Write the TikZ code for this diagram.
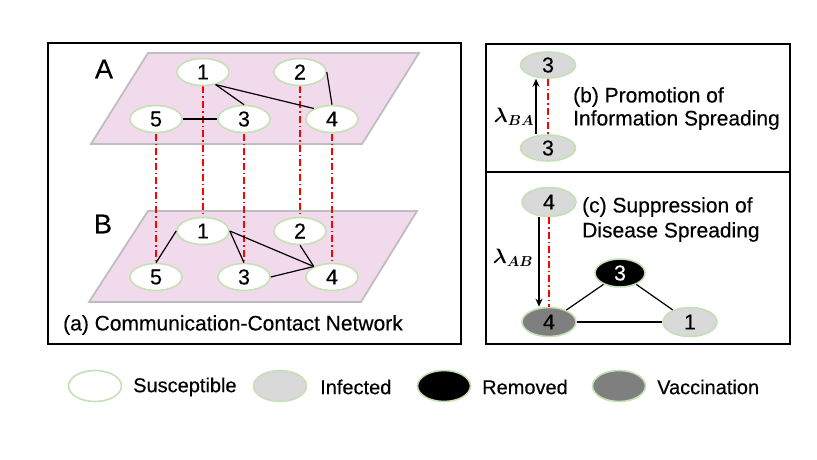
\documentclass[tikz,border=0pt]{standalone}
\usepackage{fontspec}
\setmainfont{Liberation Sans}[FakeBold=0.3]
\usepackage{amsmath,bm}
\usetikzlibrary{shapes.geometric,arrows.meta}
\definecolor{plane}{HTML}{F1DAEC}
\definecolor{planeedge}{HTML}{BEBEBE}
\definecolor{nodeedge}{HTML}{C5E0B4}
\definecolor{infgray}{HTML}{D9D9D9}
\definecolor{vacgray}{HTML}{7F7F7F}
\tikzset{
  nd/.style={ellipse, draw=nodeedge, line width=1.6pt, fill=white, minimum width=52pt, minimum height=27pt, inner sep=0pt, font=\fontsize{21.5}{24}\selectfont},
  inf/.style={fill=infgray},
  rem/.style={fill=black, text=white},
  vac/.style={fill=vacgray},
  lg/.style={ellipse, draw=nodeedge, line width=1.6pt, minimum width=53pt, minimum height=31pt, inner sep=0pt},
  lgtext/.style={anchor=west, inner sep=0pt, font=\fontsize{20}{24}\selectfont},
  edge/.style={line width=1.2pt, black},
  reddash/.style={red, line width=1.6pt, dash pattern=on 7pt off 3pt on 1.5pt off 3pt},
  panel/.style={draw=black, line width=1.8pt},
  pl/.style={fill=plane, draw=planeedge, line width=1.8pt},
  captext/.style={anchor=west, inner sep=0pt, font=\fontsize{21}{24}\selectfont},
  lay/.style={inner sep=0pt, font=\fontsize{27}{30}\selectfont},
  arr/.style={line width=1.4pt, -{Stealth[length=8pt,width=7pt]}}
}
\begin{document}
\begin{tikzpicture}[x=1pt,y=-1pt]
\useasboundingbox (0,0) rectangle (817,460);
% panels
\draw[panel] (48,43) rectangle (461,344);
\draw[panel] (486,44) rectangle (790,172);
\draw[panel] (486,172) rectangle (790,344);
% planes
\draw[pl] (148,53) -- (419,53) -- (362,144) -- (91,144) -- cycle;
\draw[pl] (148,211) -- (417,211) -- (361,302) -- (89,302) -- cycle;
\node[lay] (labA) at (104,69) {A};
\node[lay] (labB) at (103,224) {B};
% coordinates for nodes
\coordinate (pa1) at (203,72);
\coordinate (pa2) at (300,72);
\coordinate (pa5) at (156,119);
\coordinate (pa3) at (244,119);
\coordinate (pa4) at (332,119);
\coordinate (pb1) at (203,231);
\coordinate (pb2) at (300,231);
\coordinate (pb5) at (156,277);
\coordinate (pb3) at (244,277);
\coordinate (pb4) at (332,277);
% red inter-layer links
\foreach \i in {1,2,3,4,5}{
  \draw[reddash] (pa\i) -- (pb\i);
}
% nodes layer A
\node[nd] (a1) at (pa1) {1};
\node[nd] (a2) at (pa2) {2};
\node[nd] (a5) at (pa5) {5};
\node[nd] (a3) at (pa3) {3};
\node[nd] (a4) at (pa4) {4};
% nodes layer B
\node[nd] (b1) at (pb1) {1};
\node[nd] (b2) at (pb2) {2};
\node[nd] (b5) at (pb5) {5};
\node[nd] (b3) at (pb3) {3};
\node[nd] (b4) at (pb4) {4};
% edges A
\draw[edge] (a1.-45) -- (a3.north);
\draw[edge] (a1.-45) -- (a4.150);
\draw[edge] (a2.east) -- (a4.north);
\draw[edge] (a5.east) -- (a3.west);
% edges B
\draw[edge] (b1.west) -- (b5.north);
\draw[edge] (b1.east) -- (b3.north);
\draw[edge] (b1.east) -- (b4.150);
\draw[edge] (b2.south) -- (b4.150);
\draw[edge] (b3.east) -- (b4.150);
\node[captext] (capa) at (63,325) {(a) Communication-Contact Network};
% panel b
\node[nd, inf, minimum width=55pt, minimum height=26pt] (bt) at (548,65) {3};
\node[nd, inf, minimum width=55pt, minimum height=26pt] (bb) at (548,148) {3};
\draw[reddash] (bt.south) -- (bb.north);
\draw[arr] ([xshift=-12pt]bb.north) -- ([xshift=-12pt]bt.south);
\node[inner sep=0pt, font=\fontsize{20}{22}\selectfont] (lba) at (514,117) {$\bm{\lambda}_{\bm{BA}}$};
\node[captext] (capb1) at (573,97) {(b) Promotion of};
\node[captext] (capb2) at (573,120) {Information Spreading};
% panel c
\node[nd, inf, minimum width=54pt, minimum height=29pt] (ct) at (549,202) {4};
\node[nd, vac, minimum width=54pt, minimum height=29pt] (cb) at (549,322) {4};
\node[nd, rem, minimum width=50pt, minimum height=28pt] (c3) at (620,273) {3};
\node[nd, inf, minimum width=54pt, minimum height=29pt] (c1) at (690,322) {1};
\draw[reddash] (ct.south) -- (cb.north);
\draw[arr] ([xshift=-10pt]ct.south) -- ([xshift=-10pt]cb.north);
\draw[edge] (cb) -- (c3);
\draw[edge] (c3) -- (c1);
\draw[edge] (cb) -- (c1);
\node[inner sep=0pt, font=\fontsize{20}{22}\selectfont] (lab) at (513,258) {$\bm{\lambda}_{\bm{AB}}$};
\node[captext] (capc1) at (582,207) {(c) Suppression of};
\node[captext] (capc2) at (582,232) {Disease Spreading};
% legend
\node[lg, fill=white] (l1) at (95,386) {};
\node[lgtext] (t1) at (133,387) {Susceptible};
\node[lg, fill=infgray] (l2) at (280,386) {};
\node[lgtext] (t2) at (320,387) {Infected};
\node[lg, fill=black] (l3) at (444,386) {};
\node[lgtext] (t3) at (482,387) {Removed};
\node[lg, fill=vacgray] (l4) at (619,386) {};
\node[lgtext] (t4) at (657,387) {Vaccination};
\end{tikzpicture}
\end{document}
